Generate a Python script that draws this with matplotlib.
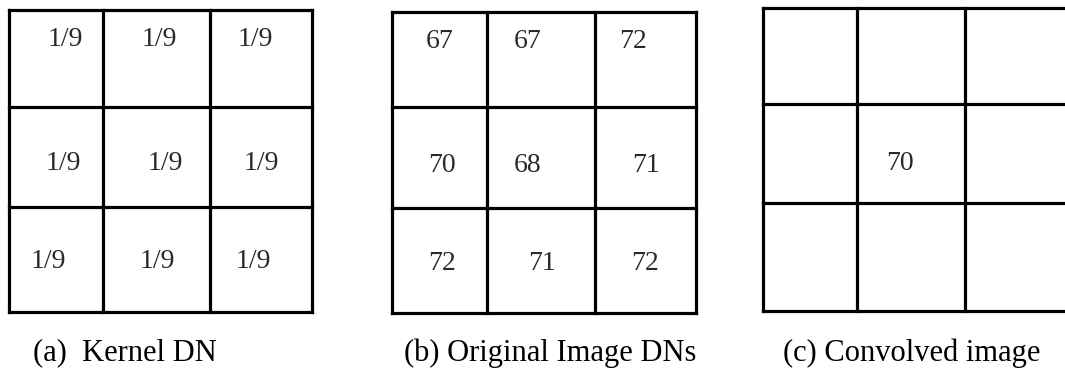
import matplotlib.pyplot as plt

# cell contents, row by row (top to bottom)
kernel_vals = [["1/9", "1/9", "1/9"],
               ["1/9", "1/9", "1/9"],
               ["1/9", "1/9", "1/9"]]
original_vals = [[67, 67, 72],
                 [70, 68, 71],
                 [72, 71, 72]]
convolved_vals = [["", "", ""],
                  ["", 70, ""],
                  ["", "", ""]]
captions = ["(a)  Kernel DN", "(b) Original Image DNs", "(c) Convolved image"]

# layout in pixels: outer box and inner line positions
boxes = [
    dict(x=[9, 103, 210, 312], y=[10, 107, 207, 312]),
    dict(x=[392, 487, 595, 696], y=[12, 107, 208, 313]),
    dict(x=[763, 857, 965, 1075], y=[8, 104, 203, 311]),
]
# text centres per panel (x per cell, y per row) - the scan is hand-placed
text_x = [
    [[65, 159, 255], [63, 165, 261], [48, 157, 253]],
    [[440, 528, 633], [442, 528, 646], [442, 542, 645]],
    [[0, 0, 0], [0, 900, 0], [0, 0, 0]],
]
text_y = [[39, 164, 261], [42, 166, 263], [42, 163, 260]]
caption_x = [33, 404, 783]

fig = plt.figure(figsize=(10.65, 3.72), dpi=100)
ax = fig.add_axes([0, 0, 1, 1])
ax.set_xlim(0, 1065)
ax.set_ylim(372, 0)
ax.axis("off")

serif = ["Liberation Serif", "DejaVu Serif"]
lw = 2.3

for p, (vals, box) in enumerate(zip([kernel_vals, original_vals, convolved_vals], boxes)):
    xs, ys = box["x"], box["y"]
    for x in xs:
        ax.plot([x, x], [ys[0], ys[-1]], color="black", lw=lw, solid_capstyle="projecting")
    for y in ys:
        ax.plot([xs[0], xs[-1]], [y, y], color="black", lw=lw, solid_capstyle="projecting")
    for r in range(3):
        for c in range(3):
            v = vals[r][c]
            if v == "":
                continue
            ax.text(text_x[p][r][c], text_y[p][r], str(v), ha="center", va="center",
                    fontsize=20, color="#2a2a2a", family=serif)
    ax.text(caption_x[p], 353, captions[p], ha="left", va="center",
            fontsize=22, color="black", family=serif)

fig.savefig("out.png", dpi=100)
